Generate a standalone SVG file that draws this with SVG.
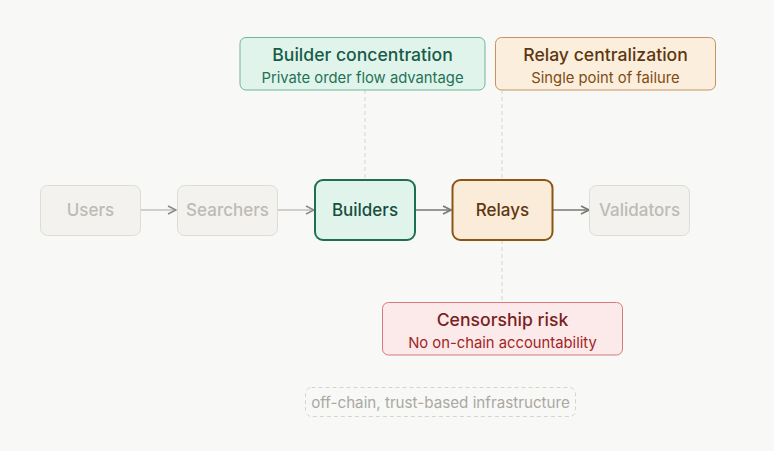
<svg xmlns="http://www.w3.org/2000/svg" width="774" height="451" viewBox="0 0 774 451">
<defs>
<style>
text{font-family:Inter,"Open Sans","Liberation Sans",sans-serif;text-anchor:middle}
.faded rect{fill:#f3f2ef;stroke:#dedcd7;stroke-width:1}
.faded text{fill:#bdbbb6;font-size:17px;font-weight:500}
.lbl{font-size:17px;font-weight:500}
.t{font-size:17.6px;font-weight:500}
.s{font-size:14.8px}
.dash{stroke:#d6d4cf;stroke-width:1;stroke-dasharray:4 3;fill:none}
</style>
<marker id="ah" viewBox="0 0 10 10" refX="9" refY="5" markerWidth="10" markerHeight="10" markerUnits="userSpaceOnUse" orient="auto">
<path d="M1,1 L9,5 L1,9" fill="none" stroke="#7a7975" stroke-width="1.6"/>
</marker>
<marker id="ahf" viewBox="0 0 10 10" refX="9" refY="5" markerWidth="10" markerHeight="10" markerUnits="userSpaceOnUse" orient="auto">
<path d="M1,1 L9,5 L1,9" fill="none" stroke="#8a8985" stroke-width="1.4"/>
</marker>
</defs>
<rect width="774" height="451" fill="#f8f8f6"/>
<g id="connectors">
<line class="dash" x1="365" y1="90" x2="365" y2="180"/>
<line class="dash" x1="502" y1="90" x2="502" y2="180"/>
<line class="dash" x1="502" y1="240" x2="502" y2="302"/>
<line x1="140" y1="210" x2="176" y2="210" stroke="#c4c2bd" stroke-width="1.5" marker-end="url(#ahf)"/>
<line x1="277" y1="210" x2="314" y2="210" stroke="#c4c2bd" stroke-width="1.5" marker-end="url(#ahf)"/>
<line x1="415" y1="210" x2="451" y2="210" stroke="#7a7975" stroke-width="1.6" marker-end="url(#ah)"/>
<line x1="553" y1="210" x2="589" y2="210" stroke="#7a7975" stroke-width="1.6" marker-end="url(#ah)"/>
</g>
<g id="users" class="faded"><rect x="40.5" y="185.5" width="100" height="50" rx="7"/><text x="90.5" y="216">Users</text></g>
<g id="searchers" class="faded"><rect x="177.5" y="185.5" width="100" height="50" rx="7"/><text x="227.5" y="216">Searchers</text></g>
<g id="validators" class="faded"><rect x="589.5" y="185.5" width="100" height="50" rx="7"/><text x="639.5" y="216">Validators</text></g>
<g id="builders"><rect x="315" y="180" width="100" height="60" rx="8" fill="#e1f4ec" stroke="#1e6e56" stroke-width="2"/><text class="lbl" x="365" y="216" fill="#164f40">Builders</text></g>
<g id="relays"><rect x="452.5" y="180" width="100" height="60" rx="8" fill="#fbecd9" stroke="#8b5514" stroke-width="2"/><text class="lbl" x="502.5" y="216" fill="#5e3710">Relays</text></g>
<g id="builder-concentration"><rect x="240" y="37.5" width="245" height="52.5" rx="6" fill="#e1f4ec" stroke="#6db79d" stroke-width="1"/><text class="t" x="362.5" y="61" fill="#175c46">Builder concentration</text><text class="s" x="362.5" y="83" fill="#1f7356">Private order flow advantage</text></g>
<g id="relay-centralization"><rect x="495.5" y="37.5" width="220" height="52.5" rx="6" fill="#fbeedd" stroke="#c3955e" stroke-width="1"/><text class="t" x="605.5" y="61" fill="#5e3710">Relay centralization</text><text class="s" x="605.5" y="83" fill="#7f4c13">Single point of failure</text></g>
<g id="censorship-risk"><rect x="382.5" y="302.5" width="240" height="52.5" rx="6" fill="#fce9e9" stroke="#d67a7a" stroke-width="1"/><text class="t" x="502.5" y="326" fill="#7a1f1f">Censorship risk</text><text class="s" x="502.5" y="348" fill="#a22424">No on-chain accountability</text></g>
<g id="footer"><rect class="dash" x="305.5" y="387.5" width="270" height="29" rx="6"/><text x="440.5" y="407.5" font-size="15.2" fill="#aaa8a3">off-chain, trust-based infrastructure</text></g>
</svg>
